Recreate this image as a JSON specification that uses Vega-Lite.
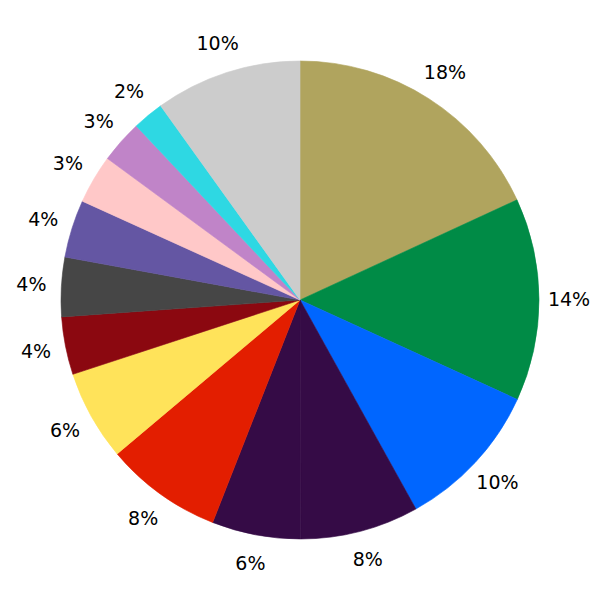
{
  "$schema": "https://vega.github.io/schema/vega-lite/v6.json",
  "width": 600,
  "height": 600,
  "autosize": {"type": "fit", "contains": "padding"},
  "padding": 0,
  "background": "white",
  "config": {"view": {"stroke": null}},
  "data": {
    "values": [
      {"i": 1, "cat": "A", "value": 18.1, "label": "18%"},
      {"i": 2, "cat": "B", "value": 13.7, "label": "14%"},
      {"i": 3, "cat": "C", "value": 10.1, "label": "10%"},
      {"i": 4, "cat": "D", "value": 8.0, "label": "8%"},
      {"i": 5, "cat": "D", "value": 6.0, "label": "6%"},
      {"i": 6, "cat": "E", "value": 7.9, "label": "8%"},
      {"i": 7, "cat": "F", "value": 6.1, "label": "6%"},
      {"i": 8, "cat": "G", "value": 3.9, "label": "4%"},
      {"i": 9, "cat": "H", "value": 4.0, "label": "4%"},
      {"i": 10, "cat": "I", "value": 3.9, "label": "4%"},
      {"i": 11, "cat": "J", "value": 3.3, "label": "3%"},
      {"i": 12, "cat": "K", "value": 2.9, "label": "3%"},
      {"i": 13, "cat": "L", "value": 2.1, "label": "2%"},
      {"i": 14, "cat": "M", "value": 9.9, "label": "10%"}
    ]
  },
  "encoding": {
    "theta": {"field": "value", "type": "quantitative", "stack": true},
    "order": {"field": "i", "type": "quantitative", "sort": "ascending"}
  },
  "layer": [
    {
      "mark": {"type": "arc", "outerRadius": 239, "strokeWidth": 0.6},
      "encoding": {
        "color": {
          "field": "cat",
          "type": "nominal",
          "legend": null,
          "scale": {
            "domain": ["A", "B", "C", "D", "E", "F", "G", "H", "I", "J", "K", "L", "M"],
            "range": ["#b0a45e", "#008b46", "#0066ff", "#350b46", "#e31e00", "#ffe35a", "#8b0810", "#464646", "#6456a3", "#ffc8c8", "#c084c8", "#2ed8e3", "#cccccc"]
          }
        },
        "stroke": {"field": "cat", "type": "nominal", "legend": null, "scale": {
            "domain": ["A", "B", "C", "D", "E", "F", "G", "H", "I", "J", "K", "L", "M"],
            "range": ["#b0a45e", "#008b46", "#0066ff", "#350b46", "#e31e00", "#ffe35a", "#8b0810", "#464646", "#6456a3", "#ffc8c8", "#c084c8", "#2ed8e3", "#cccccc"]
          }}
      }
    },
    {
      "mark": {"type": "text", "radius": 269, "fontSize": 19, "font": "DejaVu Sans", "color": "black"},
      "encoding": {"text": {"field": "label", "type": "nominal"}}
    }
  ]
}
